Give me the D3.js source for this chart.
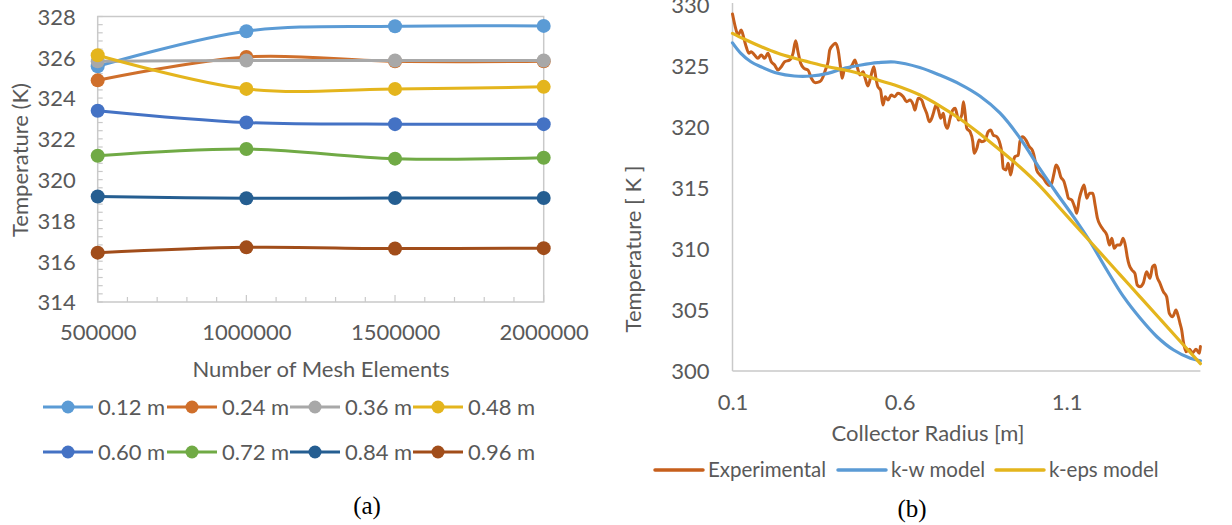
<!DOCTYPE html>
<html><head><meta charset="utf-8">
<script src="https://cdn.jsdelivr.net/npm/d3@7/dist/d3.min.js"></script>
<style>
body{margin:0;background:#fff;}
text{font-family:Lato, "Open Sans", sans-serif;}
</style>
</head><body>
<svg id="chart" width="1232" height="525"></svg>
<script>
// ---------- Panel (a) data ----------
const meshElements = [500000, 1000000, 1500000, 2000000];
const meshTicks = [500000, 1000000, 1500000, 2000000];
const tempTicksA = [314, 316, 318, 320, 322, 324, 326, 328];
const seriesNames = ["0.12 m", "0.24 m", "0.36 m", "0.48 m", "0.60 m", "0.72 m", "0.84 m", "0.96 m"];
const seriesColors = ["#5B9BD5", "#CF6F2B", "#A8A8A8", "#E4B51D", "#4472C4", "#70AA45", "#255E91", "#A14D1A"];
const t012 = [325.56, 327.28, 327.52, 327.54];
const t024 = [324.87, 326.02, 325.80, 325.80];
const t036 = [325.80, 325.84, 325.84, 325.84];
const t048 = [326.10, 324.45, 324.45, 324.55];
const t060 = [323.38, 322.80, 322.72, 322.72];
const t072 = [321.17, 321.50, 321.03, 321.07];
const t084 = [319.17, 319.09, 319.10, 319.10];
const t096 = [316.42, 316.68, 316.62, 316.64];
const seriesValues = [t012, t024, t036, t048, t060, t072, t084, t096];

// ---------- Panel (b) data ----------
const radiusTicks = [0.1, 0.6, 1.1];
const tempTicksB = [300, 305, 310, 315, 320, 325, 330];
const expR = [0.100,0.107,0.117,0.126,0.134,0.141,0.149,0.156,0.166,0.176,0.186,0.196,0.206,0.216,0.226,0.236,0.246,0.256,0.271,0.281,0.289,0.296,0.304,0.314,0.326,0.336,0.348,0.361,0.371,0.378,0.386,0.391,0.401,0.408,0.416,0.423,0.428,0.436,0.446,0.458,0.466,0.473,0.481,0.491,0.497,0.505,0.515,0.523,0.530,0.535,0.543,0.550,0.557,0.565,0.575,0.585,0.595,0.611,0.621,0.631,0.641,0.646,0.651,0.656,0.666,0.673,0.681,0.689,0.696,0.701,0.709,0.716,0.723,0.731,0.736,0.743,0.751,0.759,0.766,0.771,0.776,0.786,0.791,0.796,0.801,0.811,0.819,0.823,0.831,0.838,0.846,0.856,0.865,0.873,0.880,0.891,0.900,0.906,0.910,0.918,0.925,0.932,0.940,0.945,0.955,0.960,0.968,0.978,0.988,0.997,1.005,1.010,1.020,1.030,1.040,1.048,1.055,1.062,1.068,1.075,1.082,1.092,1.100,1.105,1.115,1.125,1.130,1.138,1.145,1.152,1.160,1.168,1.178,1.185,1.192,1.200,1.210,1.220,1.228,1.235,1.242,1.251,1.260,1.269,1.277,1.281,1.287,1.295,1.304,1.311,1.319,1.329,1.339,1.349,1.357,1.364,1.369,1.379,1.389,1.399,1.407,1.417,1.427,1.434,1.439,1.444,1.449,1.457,1.467,1.477,1.487,1.497,1.500];
const expT = [329.26,328.36,327.54,327.95,327.27,326.58,326.04,326.17,325.90,325.63,325.90,325.63,326.04,325.35,325.08,324.67,324.94,325.35,325.49,326.04,327.07,326.17,325.22,324.81,324.67,323.99,323.63,323.71,324.12,324.67,325.35,326.31,326.72,326.86,326.31,324.94,323.99,324.81,324.81,325.08,325.49,324.94,324.26,324.53,323.99,323.36,324.26,324.94,323.85,323.30,323.03,321.80,322.48,322.21,322.62,322.48,322.76,322.48,322.07,322.21,321.80,321.39,321.94,322.35,322.21,321.66,321.12,320.43,320.71,321.12,321.80,321.39,320.71,321.12,320.30,319.89,320.71,321.39,321.53,321.12,320.57,320.98,322.07,321.12,319.89,319.61,318.80,317.84,318.25,318.93,318.80,318.93,319.61,319.75,319.34,319.20,318.66,317.84,316.61,316.48,317.02,316.07,317.16,317.57,317.70,318.80,319.20,318.93,318.39,318.11,317.30,316.48,316.07,315.80,315.39,315.20,315.39,316.20,316.89,316.61,315.93,315.52,314.70,314.16,314.02,313.34,312.93,314.16,314.84,315.25,314.16,314.57,314.57,313.61,312.52,311.97,311.56,311.15,310.33,310.88,310.06,310.33,310.33,310.88,310.06,309.37,308.69,308.28,308.01,307.05,306.91,307.19,308.14,307.60,308.55,308.69,307.87,307.19,306.50,306.09,304.73,304.45,305.00,304.45,303.91,303.36,302.40,301.58,301.78,301.50,301.78,301.45,302.00];
const kwR = [0.100,0.125,0.155,0.185,0.235,0.285,0.335,0.385,0.435,0.485,0.535,0.585,0.660,0.720,0.780,0.840,0.900,0.960,1.020,1.070,1.120,1.170,1.220,1.270,1.320,1.370,1.420,1.470,1.500];
const kwT = [326.90,326.04,325.35,324.94,324.40,324.18,324.18,324.40,324.81,325.08,325.27,325.33,324.88,324.26,323.52,322.54,321.15,319.10,316.56,314.57,312.65,310.60,308.28,306.09,304.32,302.81,301.72,301.04,300.84];
const kepsR = [0.100,0.136,0.186,0.236,0.286,0.336,0.386,0.436,0.485,0.535,0.585,0.661,0.721,0.781,0.841,0.900,0.960,1.020,1.080,1.140,1.200,1.260,1.320,1.380,1.440,1.500];
const kepsT = [327.68,327.19,326.58,326.04,325.63,325.27,324.94,324.67,324.34,323.85,323.44,322.62,321.72,320.66,319.43,318.11,316.72,315.16,313.34,311.52,309.70,307.88,306.06,304.24,302.42,300.60];
const modelNames = ["Experimental", "k-w model", "k-eps model"];
const modelColors = ["#C65F1C", "#5B9BD5", "#E4B51D"];

const svg = d3.select("#chart");
const txt = "#595959";
const axisCol = "#C9C9C9";
const fs = 22;

// ================= Panel (a) =================
const xA = d3.scaleLinear().domain([500000, 2000000]).range([97.7, 543.7]);
const yA = d3.scaleLinear().domain([314, 328]).range([302, 16.5]);
const gA = svg.append("g");

gA.append("rect").attr("x", xA(500000)).attr("y", yA(328)).attr("width", xA(2000000) - xA(500000))
  .attr("height", yA(314) - yA(328)).attr("fill", "none").attr("stroke", axisCol).attr("stroke-width", 1.5);

const yMinor = d3.range(314, 328.001, 0.4);
gA.append("g").selectAll("line").data(yMinor).join("line")
  .attr("x1", xA(500000)).attr("x2", xA(500000) + 5)
  .attr("y1", d => yA(d)).attr("y2", d => yA(d)).attr("stroke", axisCol).attr("stroke-width", 1.2);
const xMinor = d3.range(500000, 2000001, 100000);
gA.append("g").selectAll("line").data(xMinor).join("line")
  .attr("x1", d => xA(d)).attr("x2", d => xA(d))
  .attr("y1", yA(314)).attr("y2", d => yA(314) - (d % 500000 === 0 ? 7 : 5)).attr("stroke", axisCol).attr("stroke-width", 1.2);

const axA_y = d3.axisLeft(yA).tickValues(tempTicksA).tickSize(0).tickPadding(22).tickFormat(d3.format("d"));
const gyA = gA.append("g").attr("transform", `translate(${xA(500000)},0)`).call(axA_y);
const axA_x = d3.axisBottom(xA).tickValues(meshTicks).tickSize(0).tickPadding(21).tickFormat(d3.format("d"));
const gxA = gA.append("g").attr("transform", `translate(0,${yA(314)})`).call(axA_x);
[gyA, gxA].forEach(g => {
  g.select(".domain").remove();
  g.selectAll("text").attr("font-size", fs).attr("fill", txt).attr("font-family", "Lato");
});
gyA.selectAll("text").attr("dy", "0.36em");
gxA.selectAll("text").attr("dy", "0.75em");

gA.append("text").attr("x", 321).attr("y", 369).attr("dy", "0.35em").attr("text-anchor", "middle")
  .attr("font-size", fs).attr("fill", txt).text("Number of Mesh Elements");
gA.append("text").attr("transform", "translate(20,160) rotate(-90)").attr("dy", "0.35em").attr("text-anchor", "middle")
  .attr("font-size", fs).attr("fill", txt).text("Temperature (K)");

const lineA = d3.line().x(d => xA(d[0])).y(d => yA(d[1])).curve(d3.curveCatmullRom.alpha(0.5));
seriesValues.forEach((vals, i) => {
  const pts = meshElements.map((m, j) => [m, vals[j]]);
  const g = gA.append("g");
  g.append("path").datum(pts).attr("d", lineA).attr("fill", "none")
    .attr("stroke", seriesColors[i]).attr("stroke-width", 3);
  g.selectAll("circle").data(pts).join("circle")
    .attr("cx", d => xA(d[0])).attr("cy", d => yA(d[1])).attr("r", 7).attr("fill", seriesColors[i]);
});

const legX = [43, 167, 290, 413];
const legY = [407, 452];
seriesNames.forEach((name, i) => {
  const x0 = legX[i % 4], y0 = legY[Math.floor(i / 4)];
  const g = gA.append("g");
  g.append("line").attr("x1", x0).attr("x2", x0 + 50).attr("y1", y0).attr("y2", y0)
    .attr("stroke", seriesColors[i]).attr("stroke-width", 3);
  g.append("circle").attr("cx", x0 + 25).attr("cy", y0).attr("r", 6.5).attr("fill", seriesColors[i]);
  g.append("text").attr("x", x0 + 55).attr("y", y0).attr("dy", "0.35em").attr("font-size", fs)
    .attr("fill", txt).text(name);
});
gA.append("text").attr("x", 367).attr("y", 505).attr("dy", "0.35em").attr("text-anchor", "middle")
  .style("font-family", "'Liberation Serif', serif")
  .attr("font-size", 25).attr("fill", "#000").text("(a)");

// ================= Panel (b) =================
const xB = d3.scaleLinear().domain([0.1, 1.5]).range([732.5, 1200.4]);
const yB = d3.scaleLinear().domain([300, 330]).range([371, 5]);
const gB = svg.append("g");

gB.append("line").attr("x1", xB(0.1)).attr("x2", xB(0.1)).attr("y1", 3).attr("y2", yB(300))
  .attr("stroke", axisCol).attr("stroke-width", 1.5);
gB.append("line").attr("x1", xB(0.1)).attr("x2", xB(1.5)).attr("y1", yB(300)).attr("y2", yB(300))
  .attr("stroke", axisCol).attr("stroke-width", 1.5);

const axB_y = d3.axisLeft(yB).tickValues(tempTicksB).tickSize(0).tickPadding(23).tickFormat(d3.format("d"));
const gyB = gB.append("g").attr("transform", `translate(${xB(0.1)},0)`).call(axB_y);
const axB_x = d3.axisBottom(xB).tickValues(radiusTicks).tickSize(0).tickPadding(22).tickFormat(d3.format(".1f"));
const gxB = gB.append("g").attr("transform", `translate(0,${yB(300)})`).call(axB_x);
[gyB, gxB].forEach(g => {
  g.select(".domain").remove();
  g.selectAll("text").attr("font-size", fs).attr("fill", txt).attr("font-family", "Lato");
});
gyB.selectAll("text").attr("dy", "0.36em");
gxB.selectAll("text").attr("dy", "0.75em");

gB.append("text").attr("x", 928).attr("y", 433).attr("dy", "0.35em").attr("text-anchor", "middle")
  .attr("font-size", fs).attr("fill", txt).text("Collector Radius [m]");
gB.append("text").attr("transform", "translate(633,249) rotate(-90)").attr("dy", "0.35em").attr("text-anchor", "middle")
  .attr("font-size", fs).attr("fill", txt).text("Temperature [ K ]");

const lineExp = d3.line().x(d => xB(d[0])).y(d => yB(d[1])).curve(d3.curveMonotoneX);
const lineModel = d3.line().x(d => xB(d[0])).y(d => yB(d[1])).curve(d3.curveCatmullRom.alpha(0.5));
const modelData = [
  d3.zip(expR, expT),
  d3.zip(kwR, kwT),
  d3.zip(kepsR, kepsT)
];
modelData.forEach((pts, i) => {
  gB.append("path").datum(pts).attr("d", i === 0 ? lineExp : lineModel).attr("fill", "none")
    .attr("stroke", modelColors[i]).attr("stroke-width", i === 0 ? 3 : 3.2)
    .attr("stroke-linejoin", "round").attr("stroke-linecap", "round");
});

const legBX = [655, 838, 996];
modelNames.forEach((name, i) => {
  const x0 = legBX[i], y0 = 470;
  gB.append("line").attr("x1", x0).attr("x2", x0 + 48).attr("y1", y0).attr("y2", y0)
    .attr("stroke", modelColors[i]).attr("stroke-width", 3.5).attr("stroke-linecap", "round");
  gB.append("text").attr("x", x0 + 53).attr("y", y0).attr("dy", "0.35em").attr("font-size", 20.5)
    .attr("fill", txt).text(name);
});
gB.append("text").attr("x", 912).attr("y", 508).attr("dy", "0.35em").attr("text-anchor", "middle")
  .style("font-family", "'Liberation Serif', serif")
  .attr("font-size", 25).attr("fill", "#000").text("(b)");
</script>
</body></html>
